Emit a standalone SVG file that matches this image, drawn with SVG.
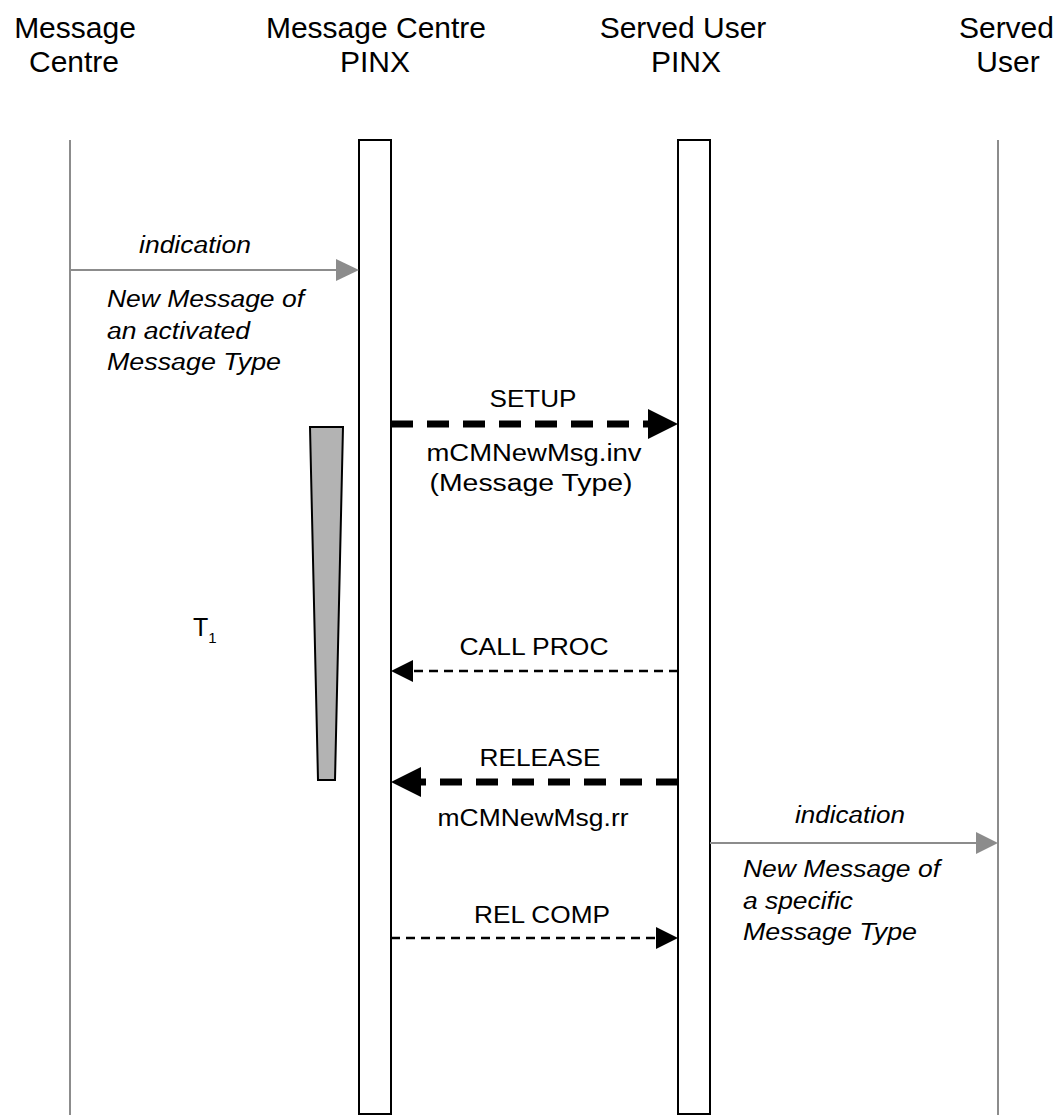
<svg xmlns="http://www.w3.org/2000/svg" width="1056" height="1115" viewBox="0 0 1056 1115">
<style>
text{font-family:"Liberation Sans",Arial,sans-serif;fill:#000}
.t{font-size:30px;text-anchor:middle}
.l{font-size:23.5px;text-anchor:middle}
.i{font-size:23.5px;font-style:italic}
.c{text-anchor:middle}
.life{stroke:#8c8c8c;stroke-width:2;fill:none}
.box{fill:#fff;stroke:#000;stroke-width:2}
.thick{stroke:#000;stroke-width:7;stroke-dasharray:22 14;fill:none}
.thin{stroke:#000;stroke-width:2.5;stroke-dasharray:9 6;fill:none}
.gray{stroke:#8c8c8c;stroke-width:2;fill:none}
</style>
<rect width="1056" height="1115" fill="#fff"/>
<g id="n-message-centre">
<text class="t" x="75" y="38">Message</text>
<text class="t" x="74" y="72">Centre</text>
<line class="life" x1="70" y1="140" x2="70" y2="1115"/>
</g>
<g id="n-mc-pinx">
<text class="t" x="376" y="38">Message Centre</text>
<text class="t" x="375" y="72">PINX</text>
<rect class="box" x="359" y="140" width="32" height="974"/>
</g>
<g id="n-su-pinx">
<text class="t" x="683" y="38">Served User</text>
<text class="t" x="686" y="72">PINX</text>
<rect class="box" x="678" y="140" width="32" height="974"/>
</g>
<g id="n-served-user">
<text class="t" x="1054" y="38" style="text-anchor:end">Served</text>
<text class="t" x="1008" y="72">User</text>
<line class="life" x1="998" y1="140" x2="998" y2="1115"/>
</g>
<g id="n-timer">
<polygon points="310,427 343,427 335,780 318,780" fill="#b3b3b3" stroke="#000" stroke-width="2"/>
<text x="193" y="636" font-size="25">T<tspan font-size="15" dy="7">1</tspan></text>
</g>
<g id="connectors">
<line class="gray" x1="70" y1="270" x2="338" y2="270"/>
<polygon points="336,259 359,270 336,281" fill="#8c8c8c"/>
<text class="i c" x="195" y="253" textLength="112" lengthAdjust="spacingAndGlyphs">indication</text>
<text class="i" x="107" y="307" textLength="197" lengthAdjust="spacingAndGlyphs">New Message of</text>
<text class="i" x="107" y="339" textLength="143" lengthAdjust="spacingAndGlyphs">an activated</text>
<text class="i" x="107" y="370" textLength="174" lengthAdjust="spacingAndGlyphs">Message Type</text>

<line class="thick" x1="391" y1="424" x2="650" y2="424"/>
<polygon points="648,409 678,424 648,439" fill="#000"/>
<text class="l" x="533" y="407" textLength="87" lengthAdjust="spacingAndGlyphs">SETUP</text>
<text class="l" x="534" y="461" textLength="215" lengthAdjust="spacingAndGlyphs">mCMNewMsg.inv</text>
<text class="l" x="531" y="491" textLength="203" lengthAdjust="spacingAndGlyphs">(Message Type)</text>

<line class="thin" x1="678" y1="671" x2="410" y2="671"/>
<polygon points="413,660 391,671 413,682" fill="#000"/>
<text class="l" x="534" y="655" textLength="149" lengthAdjust="spacingAndGlyphs">CALL PROC</text>

<line class="thick" x1="678" y1="782" x2="420" y2="782"/>
<polygon points="421,767 391,782 421,797" fill="#000"/>
<text class="l" x="540" y="766" textLength="121" lengthAdjust="spacingAndGlyphs">RELEASE</text>
<text class="l" x="533" y="826" textLength="191" lengthAdjust="spacingAndGlyphs">mCMNewMsg.rr</text>

<line class="gray" x1="710" y1="843" x2="978" y2="843"/>
<polygon points="976,832 998,843 976,854" fill="#8c8c8c"/>
<text class="i c" x="850" y="823" textLength="110" lengthAdjust="spacingAndGlyphs">indication</text>
<text class="i" x="743" y="877" textLength="197" lengthAdjust="spacingAndGlyphs">New Message of</text>
<text class="i" x="743" y="909" textLength="110" lengthAdjust="spacingAndGlyphs">a specific</text>
<text class="i" x="743" y="940" textLength="174" lengthAdjust="spacingAndGlyphs">Message Type</text>

<line class="thin" x1="391" y1="938" x2="660" y2="938"/>
<polygon points="656,927 678,938 656,949" fill="#000"/>
<text class="l" x="542" y="923" textLength="136" lengthAdjust="spacingAndGlyphs">REL COMP</text>
</g>
</svg>
